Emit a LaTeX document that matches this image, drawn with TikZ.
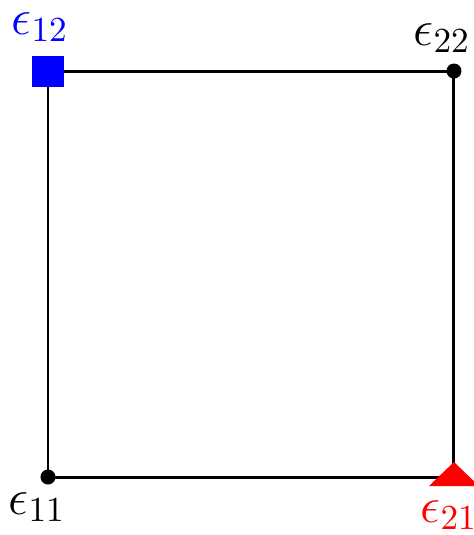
\documentclass[tikz,border=0pt]{standalone}
\usepackage{amsmath, amssymb}
\usepackage{tikz}

\begin{document}
\begin{tikzpicture}[
    x=0.01cm,
    y=-0.01cm,
    font=\Large,
    borde/.style={line width=0.85pt,black},
    punto/.style={fill=black,circle,inner sep=0pt,minimum size=0.15cm},
    cuadro/.style={fill=blue,inner sep=0pt,minimum size=0.31cm}
]
    \useasboundingbox (0,0) rectangle (474,535);
    % Esquinas
    \coordinate (c11) at (48,477);
    \coordinate (c21) at (454,477);
    \coordinate (c22) at (454,71);
    \coordinate (c12) at (48,71);
    \draw[borde] (c11) -- (c21) -- (c22) -- (c12) -- cycle;

    % Marcas
    \node[punto] (e11) at (c11) {};
    \node[punto] (e22) at (c22) {};
    \node[cuadro] (e12) at (c12) {};
    \fill[red] (429,486) -- (454,462) -- (479,486) -- cycle;

    % Etiquetas
    \node[blue] at (40,27) {$\epsilon_{12}$};
    \node at (442,38) {$\epsilon_{22}$};
    \node at (37,507) {$\epsilon_{11}$};
    \node[red] at (449,515) {$\epsilon_{21}$};
\end{tikzpicture}
\end{document}
